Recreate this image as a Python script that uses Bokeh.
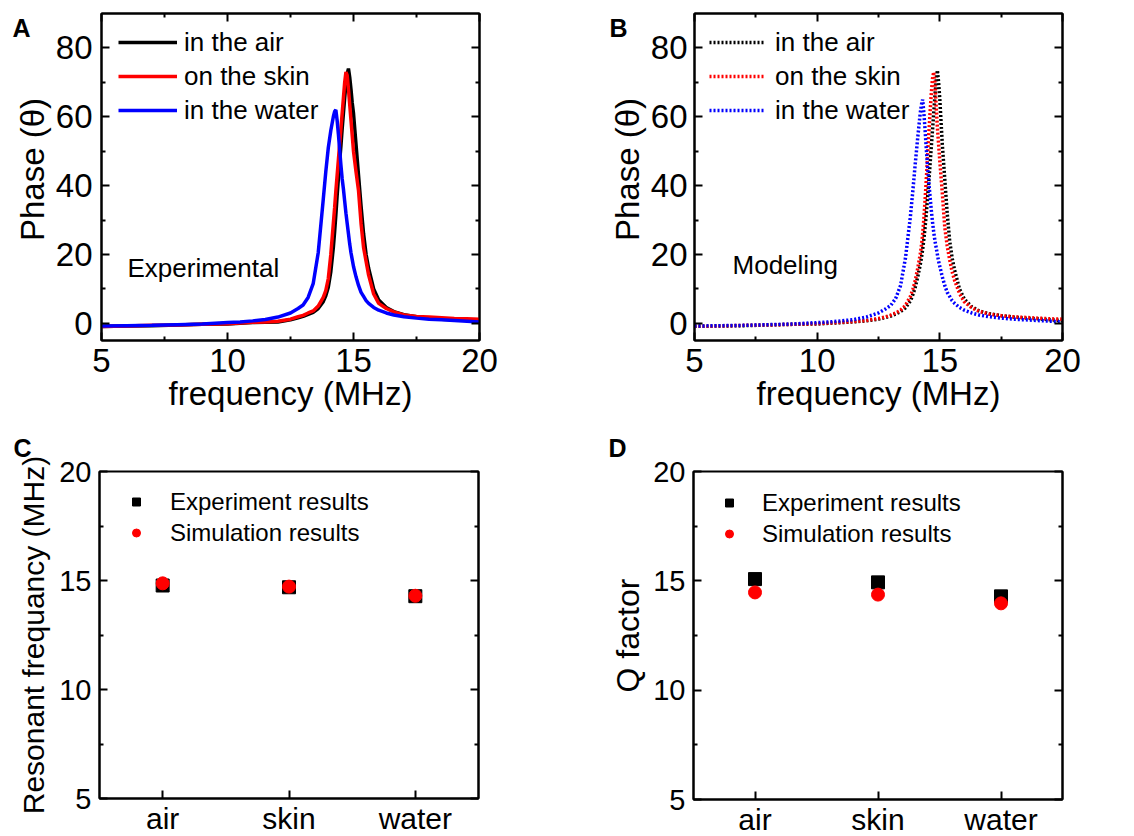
from bokeh.plotting import figure
from bokeh.models import (Range1d, FactorRange, LinearAxis, CategoricalAxis,
                          FixedTicker, Legend, LegendItem, Label)
from bokeh.layouts import row, column
from bokeh.embed import file_html
from bokeh.resources import INLINE

FONT = "Liberation Sans"

# ---------------- data ----------------
freq = [5, 6, 7, 8, 9, 10, 10.5, 11, 11.5, 12, 12.5, 12.8, 13.0, 13.2, 13.4, 13.6,
        13.8, 13.9, 14.0, 14.1, 14.2, 14.25, 14.3, 14.35, 14.4, 14.45, 14.5, 14.55,
        14.6, 14.65, 14.7, 14.75, 14.8, 14.85, 14.9, 14.95, 15.0, 15.1, 15.2, 15.3,
        15.4, 15.5, 15.6, 15.8, 16.0, 16.3, 16.6, 17.0, 17.5, 18.0, 18.5, 19.0, 19.5, 20.0]

exp_air = [-0.9, -0.8, -0.7, -0.5, -0.3, -0.2, 0.0, 0.2, 0.3, 0.4,
           1.0, 1.6, 2.0, 2.6, 3.2, 4.3, 6.3, 8.0, 10.5, 15.0,
           22.0, 26.5, 31.5, 37.0, 42.0, 47.0, 51.5, 56.5, 61.0, 65.5,
           69.5, 72.5, 74.0, 71.5, 68.0, 64.0, 61.0, 52.0, 43.0, 34.0,
           26.0, 20.0, 16.0, 10.0, 6.8, 4.6, 3.4, 2.5, 1.9, 1.5,
           1.2, 1.0, 0.9, 0.8]
exp_skin = [-0.9, -0.8, -0.6, -0.5, -0.3, -0.1, 0.1, 0.3, 0.4, 0.6,
            1.2, 1.9, 2.3, 3.0, 3.6, 5.0, 7.5, 9.5, 13.0, 20.0,
            29.0, 33.5, 38.5, 43.0, 47.5, 52.0, 56.5, 61.0, 65.5, 70.0,
            73.0, 72.0, 68.0, 63.5, 59.0, 54.5, 50.0, 44.0, 38.5, 29.0,
            22.0, 18.0, 14.0, 8.5, 5.8, 4.3, 3.3, 2.4, 2.0, 1.8,
            1.6, 1.4, 1.3, 1.2]
exp_water = [-0.8, -0.7, -0.6, -0.4, -0.2, 0.2, 0.4, 0.7, 1.1, 1.8,
             3.0, 4.3, 5.3, 7.5, 11.5, 20.5, 36.0, 44.0, 51.0, 56.0,
             60.0, 61.5, 62.0, 59.0, 55.0, 50.5, 46.0, 42.0, 39.0, 35.5,
             32.0, 29.0, 26.0, 23.0, 20.5, 18.5, 16.5, 13.5, 11.0, 9.0,
             7.8, 6.6, 5.8, 4.6, 3.8, 3.0, 2.4, 1.9, 1.5, 1.2,
             1.0, 0.8, 0.6, 0.4]

mod_air = [-0.9, -0.8, -0.7, -0.5, -0.3, -0.2, 0.0, 0.2, 0.4, 0.7,
           1.2, 1.7, 2.1, 2.7, 3.4, 4.5, 6.5, 8.3, 10.5, 13.5,
           17.0, 19.0, 21.5, 24.5, 28.0, 32.0, 36.5, 41.0, 46.0, 51.0,
           56.0, 61.0, 66.0, 70.5, 73.5, 70.0, 65.0, 52.0, 42.0, 32.0,
           24.0, 19.0, 15.5, 10.0, 7.0, 4.8, 3.6, 2.8, 2.2, 1.8,
           1.5, 1.3, 1.0, 0.8]
mod_skin = [-0.9, -0.8, -0.6, -0.5, -0.3, -0.1, 0.1, 0.3, 0.5, 0.8,
            1.4, 1.9, 2.4, 3.0, 3.8, 5.2, 7.8, 9.8, 12.5, 16.0,
            20.0, 22.5, 26.0, 30.5, 36.0, 42.0, 48.5, 55.0, 61.0, 66.5,
            71.0, 73.0, 70.0, 63.0, 57.0, 52.0, 47.0, 38.0, 28.0, 22.5,
            18.5, 15.0, 12.5, 8.7, 6.2, 4.5, 3.5, 2.7, 2.2, 1.9,
            1.7, 1.5, 1.3, 1.2]
mod_water = [-0.8, -0.7, -0.6, -0.4, -0.2, 0.2, 0.4, 0.7, 1.1, 1.8,
             3.0, 4.2, 5.2, 7.2, 11.0, 19.0, 31.0, 38.5, 46.5, 54.0,
             61.0, 63.5, 65.0, 61.0, 56.0, 50.5, 45.5, 41.0, 37.0, 33.0,
             29.5, 26.5, 24.0, 22.0, 20.0, 18.0, 16.5, 13.5, 11.0, 9.0,
             7.8, 6.6, 5.8, 4.6, 3.8, 3.0, 2.4, 1.9, 1.5, 1.2,
             1.0, 0.8, 0.6, 0.4]

media = ["air", "skin", "water"]
res_exp = [14.77, 14.69, 14.28]
res_sim = [14.87, 14.72, 14.30]
q_exp = [15.08, 14.93, 14.29]
q_sim = [14.47, 14.37, 13.97]

panel_letters = ["A", "B", "C", "D"]
series_labels = ["in the air", "on the skin", "in the water"]
series_colors = ["#000000", "#ff0000", "#0000ff"]
x_ticks = [5, 10, 15, 20]
x_minor = [7.5, 12.5, 17.5]
y_ticks = [0, 20, 40, 60, 80]
y_minor = [10, 30, 50, 70]
c_ticks = [5, 10, 15, 20]
c_minor = [7.5, 12.5, 17.5]


def style_axis(ax, size, hidden=False):
    ax.axis_line_width = 2
    ax.axis_line_color = "black"
    ax.major_tick_in = 8
    ax.major_tick_out = 0
    ax.minor_tick_in = 4
    ax.minor_tick_out = 0
    ax.major_tick_line_width = 2
    ax.minor_tick_line_width = 2
    ax.major_tick_line_color = "black"
    ax.minor_tick_line_color = "black"
    ax.major_label_text_font = FONT
    ax.major_label_text_font_size = f"{size}px"
    ax.major_label_text_color = "black"
    ax.axis_label_text_font = FONT
    ax.axis_label_text_font_style = "normal"
    ax.axis_label_text_color = "black"
    if hidden:
        ax.major_label_text_font_size = "1px"
        ax.major_label_text_color = None
        ax.major_label_standoff = 0


def side_strip(width, height, letter, lx, ly, ytitle, tx, ty, tsize):
    """Narrow strip left of a top panel holding the panel letter and the y title."""
    s = figure(frame_width=width, frame_height=height, min_border=0,
               x_range=Range1d(0, 1), y_range=Range1d(0, 1),
               x_axis_location=None, y_axis_location=None,
               output_backend="svg", toolbar_location=None)
    s.outline_line_color = None
    s.xgrid.visible = False
    s.ygrid.visible = False
    s.add_layout(Label(x=lx, y=ly, x_units="screen", y_units="screen", text=letter,
                       text_font=FONT, text_font_size="25px", text_font_style="bold",
                       text_baseline="alphabetic", text_color="black"))
    s.add_layout(Label(x=tx, y=ty, x_units="screen", y_units="screen", text=ytitle,
                       angle=90, angle_units="deg", text_align="center",
                       text_baseline="middle", text_font=FONT,
                       text_font_size=f"{tsize}px", text_color="black"))
    return s


def line_panel(left, right, fw, curves, dash, note, note_x, note_y,
               leg_vx, glyph_w, standoff, tick_standoff):
    p = figure(frame_width=fw, frame_height=327, min_border_left=left,
               min_border_right=right, min_border_top=13, min_border_bottom=80,
               x_range=Range1d(5, 20), y_range=Range1d(-5, 90),
               x_axis_location=None, y_axis_location=None,
               output_backend="svg", toolbar_location=None)
    p.outline_line_color = "black"
    p.outline_line_width = 2
    p.xgrid.visible = False
    p.ygrid.visible = False
    xt = FixedTicker(ticks=x_ticks, minor_ticks=x_minor)
    yt = FixedTicker(ticks=y_ticks, minor_ticks=y_minor)
    bx = LinearAxis(ticker=xt, axis_label="frequency (MHz)")
    style_axis(bx, 33)
    bx.axis_label_text_font_size = "33px"
    bx.major_label_standoff = 8
    bx.axis_label_standoff = 0
    ly = LinearAxis(ticker=yt)
    style_axis(ly, 33)
    ly.major_label_standoff = tick_standoff
    tx = LinearAxis(ticker=xt)
    style_axis(tx, 33, hidden=True)
    ry = LinearAxis(ticker=yt)
    style_axis(ry, 33, hidden=True)
    p.add_layout(bx, "below")
    p.add_layout(ly, "left")
    p.add_layout(tx, "above")
    p.add_layout(ry, "right")

    items = []
    for lab, col, ys in zip(series_labels, series_colors, curves):
        if dash:
            r = p.line(freq, ys, line_color=col, line_width=3.5, line_dash="2 2")
        else:
            r = p.line(freq, ys, line_color=col, line_width=3.5)
        items.append(LegendItem(label=lab, renderers=[r]))
    leg = Legend(items=items, location=(leg_vx, 213), glyph_width=glyph_w,
                 glyph_height=34, label_height=34, spacing=0, padding=0, margin=0,
                 label_standoff=standoff, border_line_color=None,
                 background_fill_alpha=0, label_text_font=FONT,
                 label_text_font_size="26px", label_text_color="black")
    p.add_layout(leg, "center")
    p.add_layout(Label(x=note_x, y=note_y, text=note, text_font=FONT,
                       text_font_size="26px", text_baseline="middle",
                       text_color="black"))
    return p


def dot_panel(left, right, fw, top, fh, bottom, letter, letter_offset, ylabel, ylsize,
              exp_vals, sim_vals, leg_vx, ylab_standoff, standoff):
    p = figure(frame_width=fw, frame_height=fh, min_border_left=left,
               min_border_right=right, min_border_top=top, min_border_bottom=bottom,
               x_range=FactorRange(factors=media), y_range=Range1d(5, 20),
               x_axis_location=None, y_axis_location=None, title=letter,
               output_backend="svg", toolbar_location=None)
    p.title.align = "left"
    p.title.offset = letter_offset
    p.title.standoff = 19
    p.title.text_font = FONT
    p.title.text_font_size = "25px"
    p.title.text_font_style = "bold"
    p.title.text_color = "black"
    p.outline_line_color = "black"
    p.outline_line_width = 2
    p.xgrid.visible = False
    p.ygrid.visible = False
    yt = FixedTicker(ticks=c_ticks, minor_ticks=c_minor)
    bx = CategoricalAxis()
    style_axis(bx, 30)
    bx.major_label_standoff = 3
    ly = LinearAxis(ticker=yt, axis_label=ylabel)
    style_axis(ly, 29)
    ly.axis_label_text_font_size = f"{ylsize}px"
    ly.major_label_standoff = 8
    ly.axis_label_standoff = ylab_standoff
    ry = LinearAxis(ticker=yt)
    style_axis(ry, 29, hidden=True)
    p.add_layout(bx, "below")
    p.add_layout(ly, "left")
    p.add_layout(ry, "right")
    r1 = p.scatter(media, exp_vals, marker="square", size=13, color="black")
    r2 = p.scatter(media, sim_vals, marker="circle", size=13, color="#ff0000")
    leg = Legend(items=[LegendItem(label="Experiment results", renderers=[r1]),
                        LegendItem(label="Simulation results", renderers=[r2])],
                 location=(leg_vx, 250), glyph_width=20, glyph_height=31,
                 label_height=31, spacing=0, padding=0, margin=0,
                 label_standoff=standoff, border_line_color=None,
                 background_fill_alpha=0, label_text_font=FONT,
                 label_text_font_size="24px", label_text_color="black")
    p.add_layout(leg, "center")
    return p


phase_title = "Phase (\u03b8)"

sA = side_strip(52, 420, panel_letters[0], 12, 406, phase_title, 32, 264, 33)
pA = line_panel(48, 82, 378, [exp_air, exp_skin, exp_water], False,
                "Experimental", 6.03, 16.2, 17, 59, 7, 9)
sB = side_strip(86, 420, panel_letters[1], 48, 406, phase_title, 66, 264, 33)
pB = line_panel(46, 74, 368, [mod_air, mod_skin, mod_water], True,
                "Modeling", 6.55, 16.8, 15, 56, 10, 7)

pC = dot_panel(99, 82, 379, 51, 327, 38, panel_letters[2], -86,
               "Resonant frequancy (MHz)", 30, res_exp, res_sim, 27, 6, 24)
pD = dot_panel(133, 72, 369, 49, 328, 39, panel_letters[3], -85,
               "Q factor", 32, q_exp, q_sim, 26, 4, 23)

layout = column(row(sA, pA, sB, pB), row(pC, pD))
open("out.html", "w").write(file_html(layout, INLINE))
